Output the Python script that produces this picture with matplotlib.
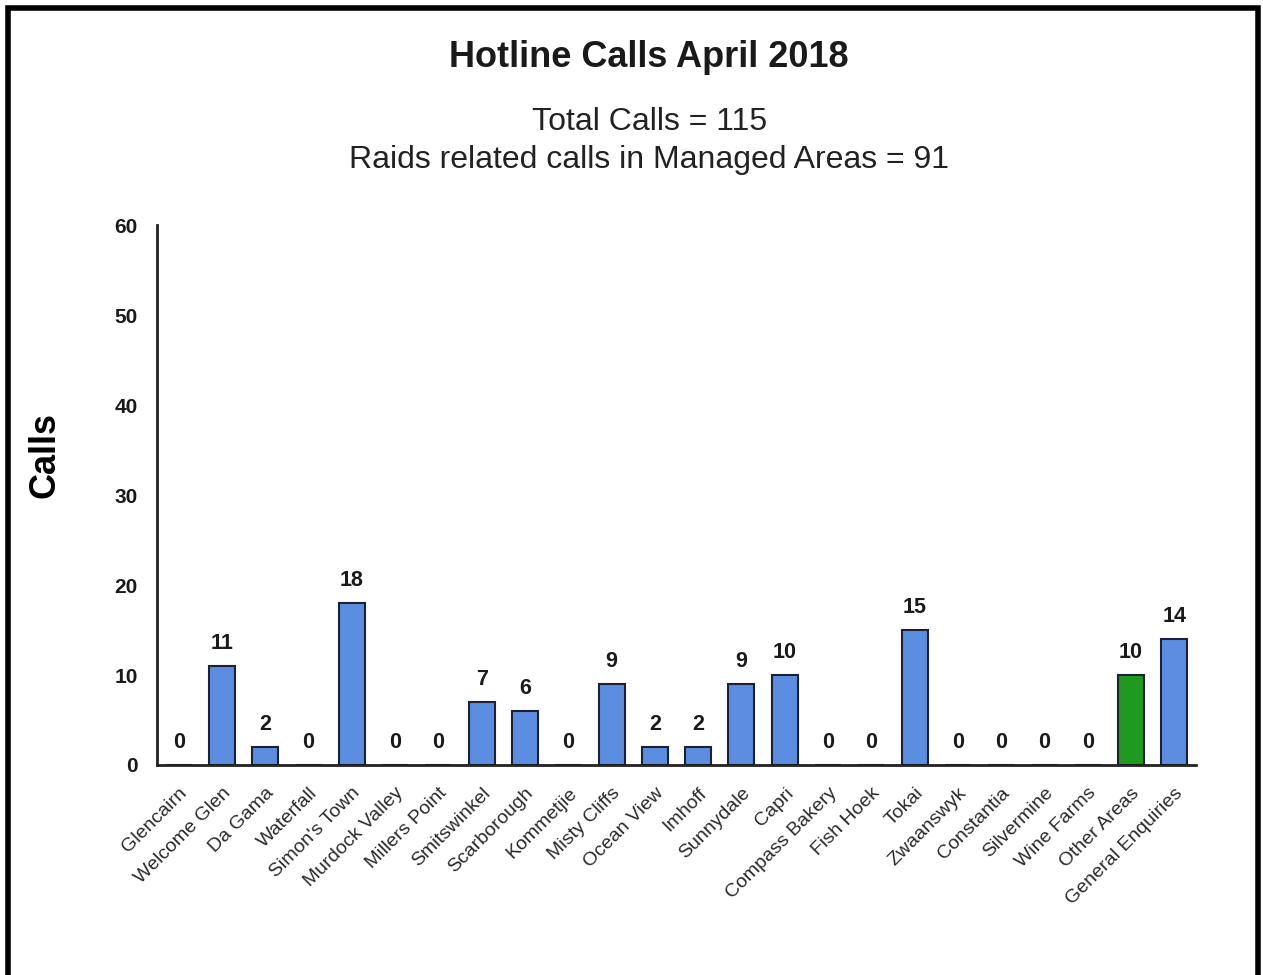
import matplotlib
matplotlib.use("Agg")
import matplotlib.pyplot as plt
from matplotlib.patches import Rectangle

plt.rcParams['font.family'] = ['Liberation Sans', 'DejaVu Sans']

areas = ["Glencairn", "Welcome Glen", "Da Gama", "Waterfall", "Simon's Town",
         "Murdock Valley", "Millers Point", "Smitswinkel", "Scarborough", "Kommetjie",
         "Misty Cliffs", "Ocean View", "Imhoff", "Sunnydale", "Capri",
         "Compass Bakery", "Fish Hoek", "Tokai", "Zwaanswyk", "Constantia",
         "Silvermine", "Wine Farms", "Other Areas", "General Enquiries"]
calls = [0, 11, 2, 0, 18, 0, 0, 7, 6, 0, 9, 2, 2, 9, 10, 0, 0, 15, 0, 0, 0, 0, 10, 14]

blue = "#5b8ee0"
green = "#1e9a1e"
colors = [green if a == "Other Areas" else blue for a in areas]

fig = plt.figure(figsize=(12.63, 9.75), dpi=100)
ax = fig.add_axes([0.1243, 0.2154, 0.8227, 0.5536])

x = range(len(areas))
ax.bar(x, calls, width=0.6, color=colors, edgecolor="#1c2233", linewidth=1.5, zorder=2)

for i, v in enumerate(calls):
    ax.text(i, v + 1.3, str(v), ha="center", va="bottom",
            fontsize=15.5, fontweight="bold", color="#1a1a1a")

ax.set_xlim(-0.5, len(areas) - 0.5)
ax.set_ylim(0, 60)
ax.set_yticks(range(0, 61, 10))
ax.set_xticks(list(x))
ax.set_xticklabels(areas, rotation=45, ha="right", rotation_mode="anchor",
                   fontsize=14, color="#2a2a2a")
for lbl in ax.get_yticklabels():
    lbl.set_fontweight("bold")
    lbl.set_fontsize(15)
    lbl.set_color("#1a1a1a")
ax.tick_params(axis="both", length=0)
ax.tick_params(axis="y", pad=14)
ax.tick_params(axis="x", pad=14)

for side in ["top", "right"]:
    ax.spines[side].set_visible(False)
for side in ["left", "bottom"]:
    ax.spines[side].set_linewidth(2)
    ax.spines[side].set_color("#222222")

ax.set_ylabel("Calls", fontsize=26, fontweight="bold")
ax.yaxis.set_label_coords(-0.0905, 0.574)

fig.text(0.514, 0.941, "Hotline Calls April 2018", ha="center", va="center",
         fontsize=26, fontweight="bold", color="#1a1a1a")
fig.text(0.514, 0.875, "Total Calls = 115", ha="center", va="center",
         fontsize=23, color="#222222")
fig.text(0.514, 0.836, "Raids related calls in Managed Areas = 91", ha="center",
         va="center", fontsize=23, color="#222222")

# frame around the whole picture
fig.patches.append(Rectangle((0.0065, -0.02), 0.9895, 1.012, transform=fig.transFigure,
                             fill=False, edgecolor="black", linewidth=4))

fig.savefig("out.png", dpi=100)
